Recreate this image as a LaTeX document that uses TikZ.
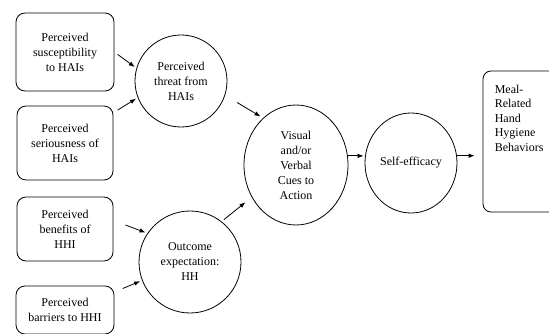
\documentclass[tikz,border=0pt]{standalone}
\usepackage{fontspec}
\setmainfont{Liberation Serif}
\usetikzlibrary{arrows.meta,positioning,shapes.geometric}

\begin{document}
\begin{tikzpicture}[x=1pt, y=1pt, every node/.style={font=\fontsize{12}{15}\selectfont, align=center},
    box/.style={draw, rounded corners=9pt, line width=0.8pt, inner sep=0pt},
    bubble/.style={draw, ellipse, line width=0.8pt, inner sep=0pt},
    arr/.style={-{Latex[length=6pt,width=4.5pt]}, line width=0.8pt}]
  \useasboundingbox (0,0) rectangle (549,335);
  \clip (0,1.6) rectangle (549,335);
  % perceptions
  \node[box, minimum width=98, minimum height=78] (sus) at (65,283) {Perceived\\susceptibility\\to HAIs};
  \node[box, minimum width=96, minimum height=74] (ser) at (65,192) {Perceived\\seriousness of\\HAIs};
  \node[box, minimum width=96, minimum height=64] (ben) at (65,106) {Perceived\\benefits of\\HHI};
  \node[box, minimum width=98, minimum height=48] (bar) at (65,25) {Perceived\\barriers to HHI};
  % mediators
  \node[bubble, minimum width=92, minimum height=92] (thr) at (181,254) {Perceived\\threat from\\HAIs};
  \node[bubble, minimum width=102, minimum height=102] (out) at (190,73) {Outcome\\expectation:\\HH};
  \node[bubble, minimum width=104, minimum height=120] (cue) at (296,170) {Visual\\and/or\\Verbal\\Cues to\\Action};
  \node[bubble, minimum width=92, minimum height=100] (eff) at (411,172) {Self-efficacy};
  \node[box, rounded corners=8pt, minimum width=80, minimum height=141] (beh) at (523,193.5) {};
  \node[inner sep=0pt, align=left, font=\fontsize{12}{14.5}\selectfont, below right=14pt and 12pt of beh.north west] (behtxt) {Meal-\\Related\\Hand\\Hygiene\\Behaviors};
  % arrows
  \draw[arr, shorten <=4pt, shorten >=2pt] (sus.east) -- (thr.164);
  \draw[arr, shorten <=5pt, shorten >=2pt] (ser.32) -- (thr.201);
  \draw[arr, shorten <=14pt, shorten >=3pt] (thr.-18) -- (cue.125);
  \draw[arr, shorten <=13pt, shorten >=2pt] (ben.10) -- (out.146);
  \draw[arr, shorten <=9pt, shorten >=2pt] (bar.20) -- (out.201);
  \draw[arr, shorten <=3pt, shorten >=8pt] (out.52) -- (cue.216);
  \draw[arr, shorten >=1pt] (cue.10) -- (cue.10 -| eff.west);
  \draw[arr, shorten >=8pt] (eff.9) -- (eff.9 -| beh.west);
\end{tikzpicture}
\end{document}
